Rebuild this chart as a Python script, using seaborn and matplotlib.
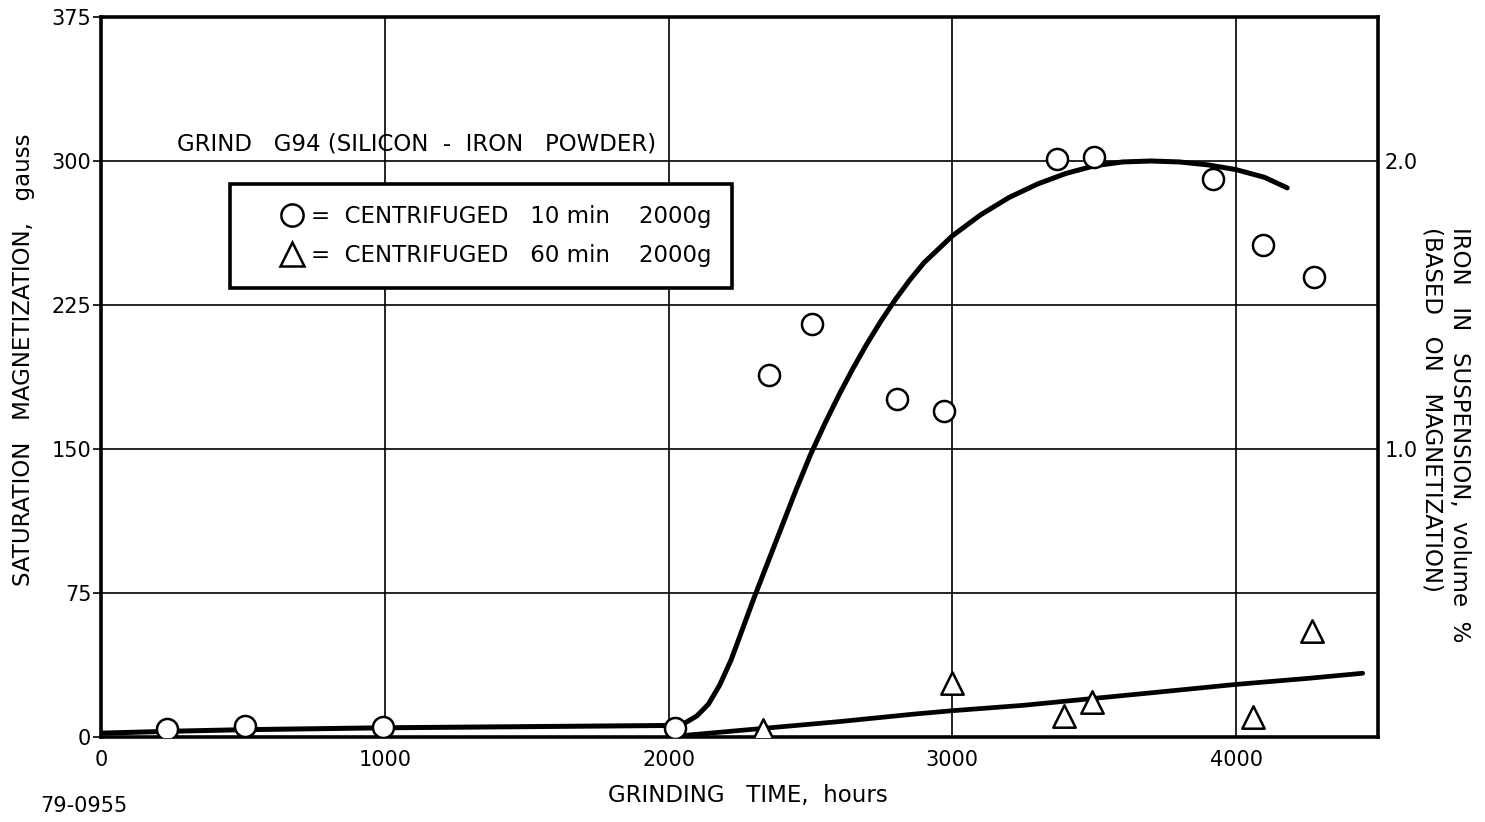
import matplotlib
matplotlib.use("Agg")
import matplotlib.pyplot as plt
import seaborn as sns
from matplotlib.lines import Line2D

# Measured points: centrifuged 10 min at 2000 g (circles)
t10 = [233, 508, 992, 2023, 2355, 2507, 2804, 2970, 3369, 3499, 3920, 4096, 4273]
m10 = [4.2, 5.5, 5.0, 4.8, 188.5, 215, 176, 170, 301, 302, 290.5, 256, 239.5]

# Measured points: centrifuged 60 min at 2000 g (triangles)
t60 = [2334, 2998, 3393, 3492, 4061, 4269]
m60 = [3.6, 28, 11, 18.4, 10.5, 55]

# Smoothed trend through the 10 min series
fit10_t = [0, 250, 500, 1000, 1500, 2000, 2030, 2060, 2100, 2140, 2180, 2220,
           2260, 2300, 2350, 2400, 2450, 2500, 2550, 2600, 2650, 2700, 2750,
           2800, 2850, 2900, 3000, 3100, 3200, 3300, 3400, 3500, 3600, 3700,
           3800, 3900, 4000, 4100, 4180]
fit10_m = [2, 3, 3.8, 4.8, 5.4, 6, 6.4, 7.5, 11, 17, 27, 40,
           56, 72, 91, 110, 129, 147, 163, 178, 192, 205, 217,
           228, 238, 247, 261, 272, 281, 288, 293.5, 297.5, 299.5, 300,
           299.5, 298, 295.5, 291.5, 286]

# Smoothed trend through the 60 min series
fit60_t = [2030, 2334, 2600, 2870, 3000, 3250, 3464, 3700, 4000, 4250, 4446]
fit60_m = [0.5, 4.5, 8, 12, 13.7, 16.5, 19.6, 23, 27.4, 30.5, 33.2]

x_ticks = [0, 1000, 2000, 3000, 4000]
y_ticks = [0, 75, 150, 225, 300, 375]
right_ticks = [0.5, 1.0, 1.5, 2.0]
right_labels = ["", "1.0", "", "2.0"]

legend_labels = ["=  CENTRIFUGED   10 min    2000g",
                 "=  CENTRIFUGED   60 min    2000g"]

sns.set_style("white")
plt.rcParams["font.family"] = ["DejaVu Sans"]
plt.rcParams["axes.axisbelow"] = True
for key in ("text.color", "axes.labelcolor", "xtick.color", "ytick.color"):
    plt.rcParams[key] = "black"

W, H = 1485, 822
fig = plt.figure(figsize=(W / 100, H / 100), dpi=100)
ax = fig.add_axes([101 / W, 1 - 737 / H, (1378 - 101) / W, (737 - 17) / H])

sns.lineplot(x=fit10_t, y=fit10_m, ax=ax, color="black", linewidth=3.6,
             sort=False, estimator=None, zorder=3)
sns.lineplot(x=fit60_t, y=fit60_m, ax=ax, color="black", linewidth=3.4,
             sort=False, estimator=None, zorder=3)
sns.scatterplot(x=t10, y=m10, ax=ax, marker="o", s=230, color="white",
                edgecolor="black", linewidth=1.8, zorder=4)
sns.scatterplot(x=t60, y=m60, ax=ax, marker="^", s=260, color="white",
                edgecolor="black", linewidth=1.8, zorder=4)

ax.set_xlim(0, 4500)
ax.set_ylim(0, 375)
ax.set_xticks(x_ticks)
ax.set_yticks(y_ticks)
ax.grid(True, color="black", linewidth=1.2)
ax.tick_params(axis="x", length=0, pad=9, labelsize=15)
ax.tick_params(axis="y", length=6, width=1.2, pad=1, labelsize=15, direction="out")
for sp in ax.spines.values():
    sp.set_visible(True)
    sp.set_color("black")
    sp.set_linewidth(2.6)
ax.set_xlabel("")
ax.set_ylabel("")

ax2 = ax.twinx()
ax2.set_ylim(0, 2.5)
ax2.set_yticks(right_ticks)
ax2.set_yticklabels(right_labels)
ax2.tick_params(axis="y", length=0, pad=5, labelsize=15)
for sp in ax2.spines.values():
    sp.set_visible(False)

ax.text(268, 309, "GRIND   G94 (SILICON  -  IRON   POWDER)", fontsize=16.5,
        ha="left", va="center")

handles = [
    Line2D([], [], linestyle="none", marker="o", markersize=16,
           markerfacecolor="white", markeredgecolor="black", markeredgewidth=1.8),
    Line2D([], [], linestyle="none", marker="^", markersize=17,
           markerfacecolor="white", markeredgecolor="black", markeredgewidth=1.8),
]
leg = ax.legend(handles, legend_labels, loc="upper left",
                bbox_to_anchor=(0.101, 0.768), frameon=True, fancybox=False,
                edgecolor="black", framealpha=1, fontsize=16.5, borderpad=0.9,
                handletextpad=-0.95, handlelength=3.6, labelspacing=0.72,
                borderaxespad=0)
leg.get_frame().set_linewidth(2.6)
leg.set_zorder(6)

fig.text(24 / W, 1 - 360 / H, "SATURATION   MAGNETIZATION,   gauss",
         rotation=90, ha="center", va="center", fontsize=16.5)
fig.text(748 / W, 1 - 795 / H, "GRINDING   TIME,  hours",
         ha="center", va="center", fontsize=16.5)
fig.text(1460 / W, 1 - 227 / H, "IRON   IN   SUSPENSION,  volume  %",
         rotation=-90, rotation_mode="anchor", ha="left", va="center", fontsize=16.5)
fig.text(1432 / W, 1 - 227 / H, "(BASED   ON   MAGNETIZATION)",
         rotation=-90, rotation_mode="anchor", ha="left", va="center", fontsize=16.5)
fig.text(40 / W, 1 - 806 / H, "79-0955", ha="left", va="center", fontsize=15)

fig.savefig("out.png", dpi=100)
